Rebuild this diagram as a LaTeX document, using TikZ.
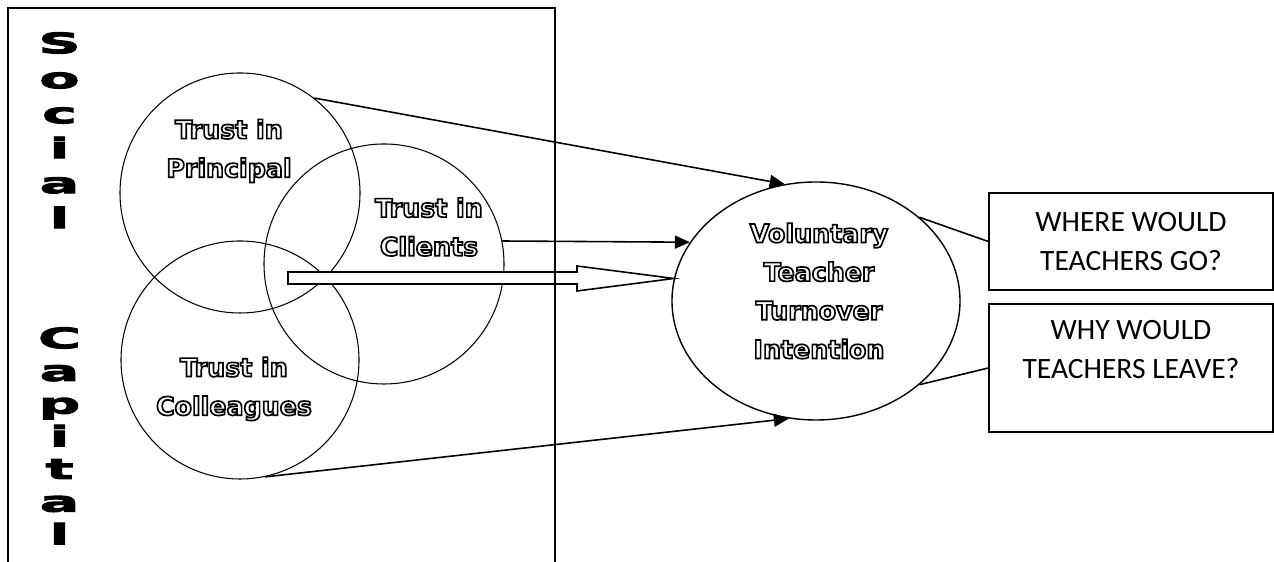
\documentclass[tikz,border=0pt]{standalone}
\usepackage{fontspec}
\usetikzlibrary{arrows.meta}
\usetikzlibrary{shapes.geometric}
\usetikzlibrary{calc}

\newfontfamily\heavyfont{DejaVu Sans}
\newfontfamily\widefont{DejaVu Sans Bold}[FakeStretch=2.1, FakeBold=3.5]
\newfontfamily\boxfont{Carlito}
\newcommand{\trustfont}{\heavyfont\bfseries\fontsize{14.4pt}{22pt}\selectfont}
\newcommand{\questionfont}{\boxfont\fontsize{16.8pt}{22.2pt}\selectfont}
\newcommand{\hollow}[1]{\special{pdf:literal direct 1 g 0 G 2 Tr 0.95 w}#1\special{pdf:literal direct 0 g 0 Tr}}

\begin{document}
\begin{tikzpicture}[
    venn/.style = {draw, circle, line width=0.6pt, minimum size=4.8cm, inner sep=0pt},
    trust/.style = {align=center, font=\trustfont, inner sep=0pt},
    spine/.style = {align=center, inner sep=0pt, anchor=north},
    link/.style = {line width=0.9pt, -{Triangle[length=0.3cm, width=0.26cm]}},
    tie/.style = {line width=0.9pt},
    question/.style = {draw, line width=0.9pt, minimum width=5.68cm, align=center, inner sep=0pt, font=\questionfont},
  ]
  \useasboundingbox (0, 0) rectangle (25.48, 11.24);

  % the three kinds of trust
  \node [venn] (principal) at (4.80, 7.38) {};
  \node [venn] (clients) at (7.68, 5.96) {};
  \node [venn, minimum size=4.76cm] (colleagues) at (4.80, 4.04) {};

  \node [trust] (principal label) at (4.58, 8.22) {\hollow{Trust in}\\\hollow{Principal}};
  \node [trust] (clients label) at (8.58, 6.70) {\hollow{Trust in}\\\hollow{Clients}};
  \node [trust] (colleagues label) at (4.68, 3.46) {\hollow{Trust in}\\\hollow{Colleagues}};

  % outcome
  \node [draw, ellipse, line width=0.8pt, minimum width=5.76cm, minimum height=4.76cm,
         inner sep=0pt] (vtti) at (16.32, 5.22) {};
  \node [trust] (vtti label) at (16.38, 5.42)
        {\hollow{Voluntary}\\\hollow{Teacher}\\\hollow{Turnover}\\\hollow{Intention}};

  \node [question, minimum height=1.94cm] (where) at (22.62, 6.41) {WHERE WOULD\\TEACHERS GO?};
  \node [question, minimum height=2.56cm, text depth=0.75cm] (why) at (22.62, 3.88)
        {WHY WOULD\\TEACHERS LEAVE?};

  % arrows
  \draw [link] (principal.52) -- (vtti.105);
  \draw [link] (clients.11) -- (vtti.155);
  \draw [link] (colleagues.-78) -- (vtti.-103);

  \coordinate (tail) at (5.76, 5.68);
  \draw [line width=0.9pt, fill=white] ($(tail) + (0, 0.12)$) -- (11.54, 5.80) -- (11.54, 5.92)
        -- (vtti.171) -- (11.54, 5.42) -- (11.54, 5.56) -- ($(tail) + (0, -0.12)$) -- cycle;

  \draw [tie] (vtti.39) -- (where.west);
  \draw [tie] (vtti.-39) -- (why.west);

  % frame
  \draw [line width=0.9pt] (0.16, 0) -- (0.16, 11.08) -- (11.10, 11.08) -- (11.10, 0);
  \node [spine, font=\widefont\fontsize{16pt}{19.9pt}\selectfont] (social) at (1.19, 10.60)
        {S\\o\\c\\i\\a\\l};
  \node [spine, font=\widefont\fontsize{16pt}{18.6pt}\selectfont] (capital) at (1.19, 4.70)
        {C\\a\\p\\i\\t\\a\\l};
\end{tikzpicture}
\end{document}
